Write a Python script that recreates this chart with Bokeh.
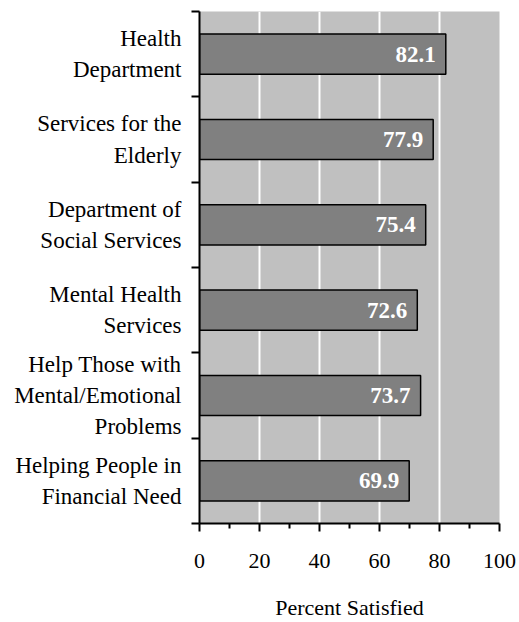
from bokeh.plotting import figure
from bokeh.models import ColumnDataSource, FixedTicker, Range1d
from bokeh.core.properties import value
from bokeh.embed import file_html
from bokeh.resources import INLINE

categories = [
    "Health\nDepartment",
    "Services for the\nElderly",
    "Department of\nSocial Services",
    "Mental Health\nServices",
    "Help Those with\nMental/Emotional\nProblems",
    "Helping People in\nFinancial Need",
]
satisfied = [82.1, 77.9, 75.4, 72.6, 73.7, 69.9]
x_ticks = [0, 20, 40, 60, 80, 100]
x_minor_ticks = [10, 30, 50, 70, 90]

n = len(categories)
ypos = [n - 0.5 - i for i in range(n)]
labels = ["%.1f" % v for v in satisfied]

src = ColumnDataSource(dict(y=ypos, v=satisfied, lab=labels))

FONT = "'Liberation Serif', 'Times New Roman', serif"

p = figure(width=519, height=622, output_backend="svg", toolbar_location=None,
           x_range=Range1d(0, 100), y_range=Range1d(0, n),
           min_border_left=199, min_border_right=20, min_border_top=11,
           min_border_bottom=99)
p.outline_line_color = None
p.background_fill_color = "#C0C0C0"
p.border_fill_color = "white"

p.hbar(y="y", right="v", left=0, height=0.47, source=src,
       fill_color="#808080", line_color="black", line_width=1.5)
p.text(x="v", y="y", text="lab", source=src, x_offset=-10,
       text_align="right", text_baseline="middle", text_color="white",
       text_font=value(FONT), text_font_style="bold", text_font_size="23px")

# grid
p.ygrid.visible = False
p.xgrid.ticker = FixedTicker(ticks=x_ticks[1:-1])
p.xgrid.grid_line_color = "white"
p.xgrid.grid_line_width = 2

# x axis
xa = p.xaxis[0]
xa.ticker = FixedTicker(ticks=x_ticks, minor_ticks=x_minor_ticks)
xa.axis_line_color = "black"
xa.axis_line_width = 2
xa.major_tick_in = 0
xa.major_tick_out = 8
xa.minor_tick_in = 0
xa.minor_tick_out = 5
xa.major_tick_line_width = 2
xa.minor_tick_line_width = 2
xa.major_label_text_font = FONT
xa.major_label_text_font_size = "22px"
xa.major_label_text_color = "black"
xa.major_label_standoff = 22
xa.axis_label = "Percent Satisfied"
xa.axis_label_text_font = FONT
xa.axis_label_text_font_size = "22px"
xa.axis_label_text_font_style = "normal"
xa.axis_label_text_color = "black"
xa.axis_label_standoff = 24

# y axis: labels at category centres, ticks at boundaries
ya = p.yaxis[0]
ya.ticker = FixedTicker(ticks=ypos, minor_ticks=list(range(n + 1)))
ya.major_label_overrides = {y: c for y, c in zip(ypos, categories)}
ya.axis_line_color = "black"
ya.axis_line_width = 2
ya.major_tick_in = 0
ya.major_tick_out = 0
ya.minor_tick_in = 0
ya.minor_tick_out = 8
ya.minor_tick_line_width = 2
ya.major_label_text_font = FONT
ya.major_label_text_font_size = "23px"
ya.major_label_text_color = "black"
ya.major_label_text_line_height = 1.25
ya.major_label_standoff = 10

open("out.html", "w").write(file_html(p, INLINE))
